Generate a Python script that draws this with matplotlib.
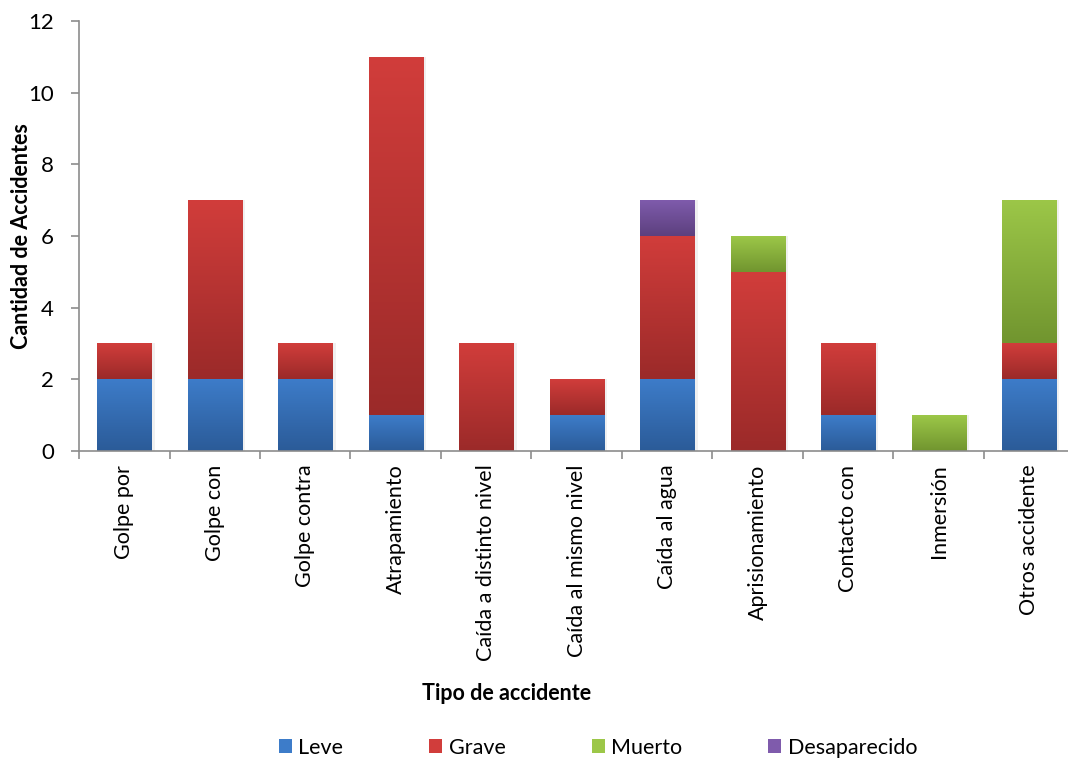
import numpy as np
import matplotlib.pyplot as plt
from matplotlib.colors import LinearSegmentedColormap
from matplotlib.patches import Patch

categorias = ["Golpe por", "Golpe con", "Golpe contra", "Atrapamiento",
              "Caída a distinto nivel", "Caída al mismo nivel", "Caída al agua",
              "Aprisionamiento", "Contacto con", "Inmersión", "Otros accidente"]
leve = [2, 2, 2, 1, 0, 1, 2, 0, 1, 0, 2]
grave = [1, 5, 1, 10, 3, 1, 4, 5, 2, 0, 1]
muerto = [0, 0, 0, 0, 0, 0, 0, 1, 0, 1, 4]
desaparecido = [0, 0, 0, 0, 0, 0, 1, 0, 0, 0, 0]

series = [("Leve", leve, "#3d7cc9", "#2b5b98"),
          ("Grave", grave, "#d13d3b", "#9b2a29"),
          ("Muerto", muerto, "#9cc748", "#71952f"),
          ("Desaparecido", desaparecido, "#7f5bac", "#5c407e")]

plt.rcParams['font.family'] = ['Lato', 'DejaVu Sans']

fig = plt.figure(figsize=(10.68, 7.59), dpi=100)
ax = fig.add_axes([0.074, 0.406, 0.932, 0.566])

x = np.arange(len(categorias))
bottom = np.zeros(len(categorias))
handles = []
grad = np.linspace(0, 1, 256).reshape(-1, 1)
for name, vals, top_c, bot_c in series:
    vals = np.array(vals, dtype=float)
    bars = ax.bar(x, vals, 0.6, bottom=bottom, color="none", edgecolor="none")
    cmap = LinearSegmentedColormap.from_list(name, [bot_c, top_c])
    for b in bars:
        if b.get_height() <= 0:
            continue
        x0, y0 = b.get_x(), b.get_y()
        im = ax.imshow(grad, cmap=cmap, aspect="auto", origin="lower",
                       extent=[x0, x0 + b.get_width(), y0, y0 + b.get_height()],
                       zorder=2)
        im.set_clip_path(b)
    bottom += vals
    handles.append(Patch(facecolor=top_c, edgecolor="none", label=name))

# sombra suave a la derecha de cada barra
for xi, tot in zip(x, bottom):
    if tot > 0:
        ax.bar(xi + 0.035, tot, 0.6, color="#000000", alpha=0.06,
               edgecolor="none", zorder=1)

ax.set_xlim(-0.5, len(categorias) - 0.5)
ax.set_ylim(0, 12)
ax.set_yticks(range(0, 13, 2))
ax.set_xticks(x)
ax.set_xticklabels(categorias, rotation=90, fontsize=15.5)
ax.set_xticks(np.arange(-0.5, len(categorias), 1), minor=True)
ax.tick_params(axis="x", which="major", length=0, pad=10)
ax.tick_params(axis="x", which="minor", length=6, color="#8c8c8c", width=1.2)
ax.tick_params(axis="y", length=6, color="#8c8c8c", width=1.2, labelsize=16, pad=12)

for s in ["top", "right"]:
    ax.spines[s].set_visible(False)
for s in ["left", "bottom"]:
    ax.spines[s].set_color("#8c8c8c")
    ax.spines[s].set_linewidth(1.2)

ax.set_ylabel("Cantidad de Accidentes", fontsize=15.5, fontweight="bold")
ax.yaxis.set_label_coords(-0.047, 0.5)
ax.set_xlabel("Tipo de accidente", fontsize=15.5, fontweight="bold")
ax.xaxis.set_label_coords(0.43, -0.54)

fig.legend(handles=handles, loc="center", bbox_to_anchor=(0.56, 0.015),
           ncol=4, frameon=False, fontsize=15.5, handlelength=0.6, handleheight=0.6,
           handletextpad=0.3, columnspacing=4.0)

fig.savefig("out.png", dpi=100)
